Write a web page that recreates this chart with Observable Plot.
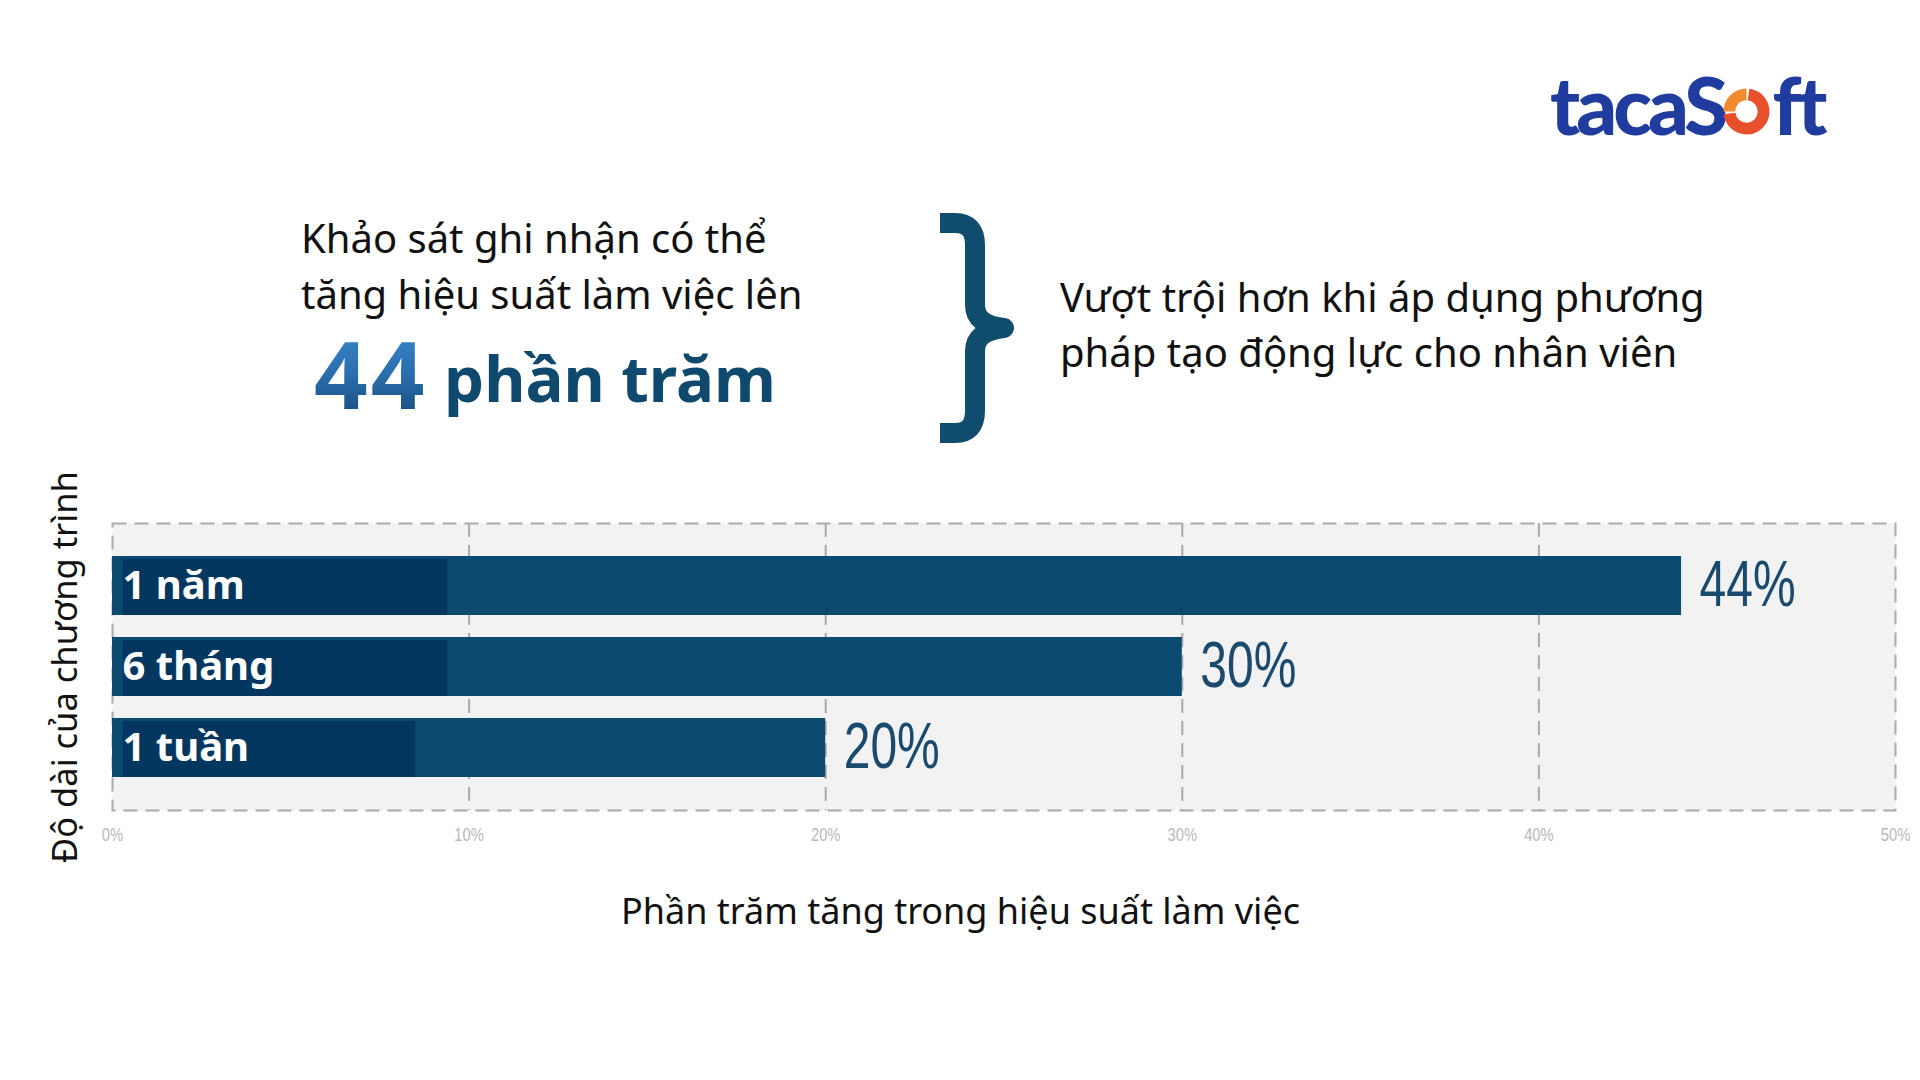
<!DOCTYPE html>
<html><head><meta charset="utf-8">
<script src="https://cdn.jsdelivr.net/npm/d3@7"></script>
<script src="https://cdn.jsdelivr.net/npm/@observablehq/plot@0.6"></script>
<style>
html,body{margin:0;padding:0;background:#fff;}
#page{position:relative;width:1920px;height:1080px;overflow:hidden;background:#fff;font-family:"Noto Sans",sans-serif;}
.abs{position:absolute;white-space:nowrap;}
#chart{position:absolute;left:0;top:480px;}
</style></head><body>
<div id="page">
  <div class="abs" id="logo" style="left:1550px;top:64px;font-family:Lato,sans-serif;font-weight:900;font-size:80px;line-height:80px;letter-spacing:-4px;color:#1f3c9e;">taca<span>S</span><svg width="47" height="47" viewBox="0 0 44 44" style="display:inline-block;vertical-align:baseline;margin:0 2px 0 -1px;"><path d="M6 22 A16 16 0 0 1 22 6" fill="none" stroke="#f08c2e" stroke-width="11"/><path d="M23.95 6.12 A16 16 0 1 1 6.12 23.95" fill="none" stroke="#e8502b" stroke-width="11"/></svg>ft</div>

  <div class="abs" style="left:301px;top:210px;font-size:40px;line-height:56px;color:#111;">Khảo sát ghi nhận có thể<br>tăng hiệu suất làm việc lên</div>

  <div class="abs" style="left:314px;top:326px;font-size:94px;line-height:94px;font-weight:700;letter-spacing:3px;background:linear-gradient(180deg,#3586cc 0%,#2a6fae 50%,#174b7c 100%);-webkit-background-clip:text;background-clip:text;color:transparent;">44</div>
  <div class="abs" style="left:444px;top:346px;font-size:63.5px;line-height:63.5px;font-weight:700;color:#0f4a6e;">phần trăm</div>

  <svg class="abs" style="left:920px;top:200px;" width="110" height="260" viewBox="0 0 110 260">
    <path d="M20 23 H35 Q55 23 55 45 V105 Q55 125 84 128 Q55 131 55 151 V211 Q55 233 35 233 H20" fill="none" stroke="#0f4c6e" stroke-width="20" stroke-linejoin="round"/>
  </svg>

  <div class="abs" style="left:1060px;top:269px;font-size:40px;line-height:55px;color:#111;">Vượt trội hơn khi áp dụng phương<br>pháp tạo động lực cho nhân viên</div>

  <div id="chart"></div>
</div>
<script>
const categories = ["1 năm", "6 tháng", "1 tuần"];
const values = [44, 30, 20];
const labelBgStart = [0.3, 0.3, 0.3];
const labelBgEnd = [9.4, 9.4, 8.5];
const xTicks = [0, 10, 20, 30, 40, 50];
const gridTicks = [10, 20, 30, 40];
const xTitle = "Phần trăm tăng trong hiệu suất làm việc";
const yTitle = "Độ dài của chương trình";

const data = categories.map((c, i) => ({cat: c, value: values[i], bg1: labelBgStart[i], bg2: labelBgEnd[i]}));

const chart = Plot.plot({
  width: 1920, height: 470,
  marginLeft: 112, marginRight: 25, marginTop: 43, marginBottom: 140,
  style: {background: "transparent", fontFamily: "Noto Sans", overflow: "visible"},
  x: {domain: [0, 50]},
  y: {domain: categories, paddingInner: 0.276, paddingOuter: 0.4, align: 0.5, axis: null},
  marks: [
    Plot.frame({fill: "#f2f2f2", stroke: null}),
    Plot.ruleX(gridTicks, {stroke: "#a9a9a9", strokeWidth: 2, strokeDasharray: "14,8"}),
    Plot.frame({stroke: "#aaaaaa", strokeWidth: 2, strokeDasharray: "14,8"}),
    Plot.barX(data, {x: "value", y: "cat", fill: "#0d4a6f"}),
    Plot.barX(data, {x1: "bg1", x2: "bg2", y: "cat", fill: "#04375f", insetTop: 3}),
    Plot.text(data, {x: d => 0, y: "cat", text: "cat", textAnchor: "start", dx: 10, fill: "#fff", fontWeight: 700, fontSize: 40, fontFamily: "Noto Sans"}),
    Plot.text(data, {x: "value", y: "cat", text: d => d.value + "%", textAnchor: "start", dx: 18, dy: 0, fill: "#1a4a6e", fontSize: 64, fontFamily: "Liberation Sans"}),
    Plot.axisX({ticks: xTicks, tickFormat: d => d + "%", tickSize: 0, tickPadding: 18, fontSize: 18, color: "#b8b8b8", fontFamily: "Liberation Sans", label: null}),
    Plot.text([xTitle], {frameAnchor: "bottom", textAnchor: "middle", dx: -43.5, dy: 113, fontSize: 36, fill: "#111", fontFamily: "Noto Sans"}),
    Plot.text([yTitle], {frameAnchor: "left", textAnchor: "middle", rotate: -90, dx: -46.6, fontSize: 34.5, fill: "#111", fontFamily: "Noto Sans"})
  ]
});
document.getElementById("chart").appendChild(chart);

function condense(nodes, s) {
  nodes.forEach(t => {
    const tr = t.getAttribute("transform");
    if (tr) {
      t.setAttribute("transform", tr + ` scale(${s},1)`);
    } else {
      const x = +(t.getAttribute("x") || 0);
      t.setAttribute("x", x / s);
      t.setAttribute("transform", `scale(${s},1)`);
    }
  });
}
const allTexts = Array.from(chart.querySelectorAll("text"));
const fsOf = t => {
  let n = t;
  while (n && n !== chart) {
    const f = n.getAttribute && n.getAttribute("font-size");
    if (f) return +f;
    n = n.parentNode;
  }
  return null;
};
condense(allTexts.filter(t => fsOf(t) === 64), 0.75);
condense(allTexts.filter(t => fsOf(t) === 18), 0.82);
</script>
</body></html>
